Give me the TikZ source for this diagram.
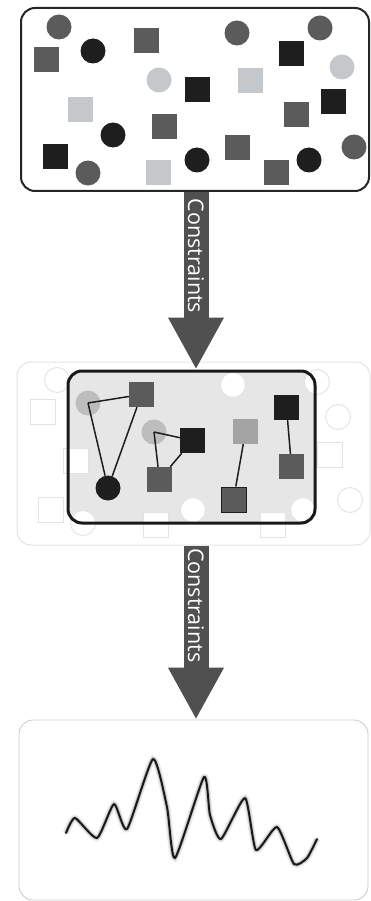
\documentclass[tikz,border=0pt]{standalone}
\usepackage{fontspec}
\newfontfamily\flowfont{Open Sans}
\usetikzlibrary{arrows.meta}
\definecolor{dkgray}{HTML}{5B5B5B}
\definecolor{nearblack}{HTML}{1E1E1E}
\definecolor{ltgray}{HTML}{C5C8CA}
\definecolor{selgray}{HTML}{BDBDBD}
\definecolor{midgray}{HTML}{A4A4A4}
\definecolor{selfill}{HTML}{E6E6E6}
\definecolor{faint}{HTML}{E3E3E3}
\definecolor{arrowgray}{HTML}{505050}
\definecolor{rim}{HTML}{C8C8C8}
\tikzset{
  sq/.style={rectangle, minimum size=25pt, inner sep=0pt, fill=#1},
  dot/.style={circle, minimum size=25pt, inner sep=0pt, fill=#1},
  ghostsq/.style={rectangle, minimum size=25pt, inner sep=0pt, fill=white, draw=faint, line width=0.9pt},
  ghostdot/.style={circle, minimum size=25pt, inner sep=0pt, fill=white, draw=faint, line width=0.9pt},
  frame/.style={rectangle, rounded corners=14pt, inner sep=0pt},
  flow/.style={draw=arrowgray, line width=25pt, -{Triangle[width=52pt,length=52pt]}},
  flowlabel/.style={text=white, font=\flowfont\fontsize{21.5}{21.5}\selectfont, rotate=-90, inner sep=0pt},
  link/.style={draw=nearblack, line width=1.5pt},
  wave/.style={draw=black!90, line width=2pt, line join=round, line cap=round,
    preaction={draw=black!8, line width=6.5pt},
    preaction={draw=black!22, line width=3.8pt}}
}
\begin{document}
\begin{tikzpicture}[x=1pt, y=-1pt]
  \useasboundingbox (0,0) rectangle (371,901);
  \node[frame, draw=black!85, line width=2pt, minimum width=348pt, minimum height=183pt] (pool) at (195,99.5) {};
  \draw
    (46.5,60) node[sq=dkgray] (p1){}
    (146,40.5) node[sq=dkgray] (p2){}
    (197,89.5) node[sq=nearblack] (p3){}
    (80.5,109.5) node[sq=ltgray] (p4){}
    (164.5,126.5) node[sq=dkgray] (p5){}
    (55.5,156.5) node[sq=nearblack] (p6){}
    (158.5,172.5) node[sq=ltgray] (p7){}
    (237,147.5) node[sq=dkgray] (p8){}
    (250,80.5) node[sq=ltgray] (p9){}
    (291,54) node[sq=nearblack] (p10){}
    (333.5,101.5) node[sq=nearblack] (p11){}
    (296.5,114.5) node[sq=dkgray] (p12){}
    (276,172.5) node[sq=dkgray] (p13){}
    (59,27) node[dot=dkgray] (q1){}
    (93,51) node[dot=nearblack] (q2){}
    (159,80) node[dot=ltgray] (q3){}
    (113,135) node[dot=nearblack] (q4){}
    (88,173) node[dot=dkgray] (q5){}
    (197,160) node[dot=nearblack] (q6){}
    (237,33) node[dot=dkgray] (q7){}
    (320,28) node[dot=dkgray] (q8){}
    (342,67) node[dot=ltgray] (q9){}
    (309,160) node[dot=nearblack] (q10){}
    (354,147) node[dot=dkgray] (q11){};

  \node[frame, draw=faint, line width=1pt, minimum width=353pt, minimum height=183pt] (space) at (193.5,453.5) {};
  \node[frame, fill=selfill, minimum width=247pt, minimum height=152pt] (selbg) at (191.5,447) {};
  \draw
    (57,380) node[ghostdot] (g1){}
    (83,523) node[ghostdot] (g2){}
    (193,510) node[ghostdot] (g3){}
    (233,385) node[ghostdot] (g4){}
    (317,382) node[ghostdot] (g5){}
    (338,417) node[ghostdot] (g6){}
    (350,500) node[ghostdot] (g7){}
    (303,510) node[ghostdot] (g8){}
    (42.5,411.5) node[ghostsq] (g9){}
    (75.5,460.5) node[ghostsq] (g10){}
    (50.5,509.5) node[ghostsq] (g11){}
    (155.5,525) node[ghostsq] (g12){}
    (329.5,454.5) node[ghostsq] (g13){}
    (272.5,525) node[ghostsq] (g14){};
  \node[frame, draw=black!90, line width=3pt, minimum width=247pt, minimum height=152pt] (sel) at (selbg) {};
  \draw
    (88,403) node[dot=selgray] (c1){}
    (141.5,394.5) node[sq=dkgray] (s1){}
    (108,488) node[dot=nearblack] (c2){}
    (154,432) node[dot=selgray] (c3){}
    (192.5,440.5) node[sq=nearblack] (s2){}
    (159.5,479.5) node[sq=dkgray] (s3){}
    (245.5,431.5) node[sq=midgray] (s4){}
    (233.5,499.5) node[sq=dkgray, draw=nearblack, line width=1pt] (s5){}
    (286.5,407.5) node[sq=nearblack] (s6){}
    (291.5,466.5) node[sq=dkgray] (s7){};
  \begin{scope}[link]
    \draw (c1.center) to (s1);
    \draw (c1.center) to (c2);
    \draw (s1) to (c2);
    \draw (c3.center) to (s2);
    \draw (c3.center) to (s3);
    \draw (s3) to (s2);
    \draw (s4) to (s5);
    \draw (s6) to (s7);
  \end{scope}

  \node[frame, draw=rim, line width=0.8pt, minimum width=349pt, minimum height=180pt] (result) at (193.5,810) {};
  \draw[wave] plot[smooth, tension=.35] coordinates {(66,833) (75,818) (97,838) (114,804) (127,829) (153,759) (167,807) (175,858) (204,777) (210,815) (221,839) (245,798) (256,850) (277,827) (294,864) (307,858) (317,839)};

  \coordinate (axis) at (196,0);
  \draw[flow] (pool.south -| axis) -- node[flowlabel, pos=.36] (t1){Constraints} (sel.north -| axis);
  \draw[flow] (space.south -| axis) -- node[flowlabel, pos=.343] (t2){Constraints} (result.north -| axis);
\end{tikzpicture}
\end{document}
